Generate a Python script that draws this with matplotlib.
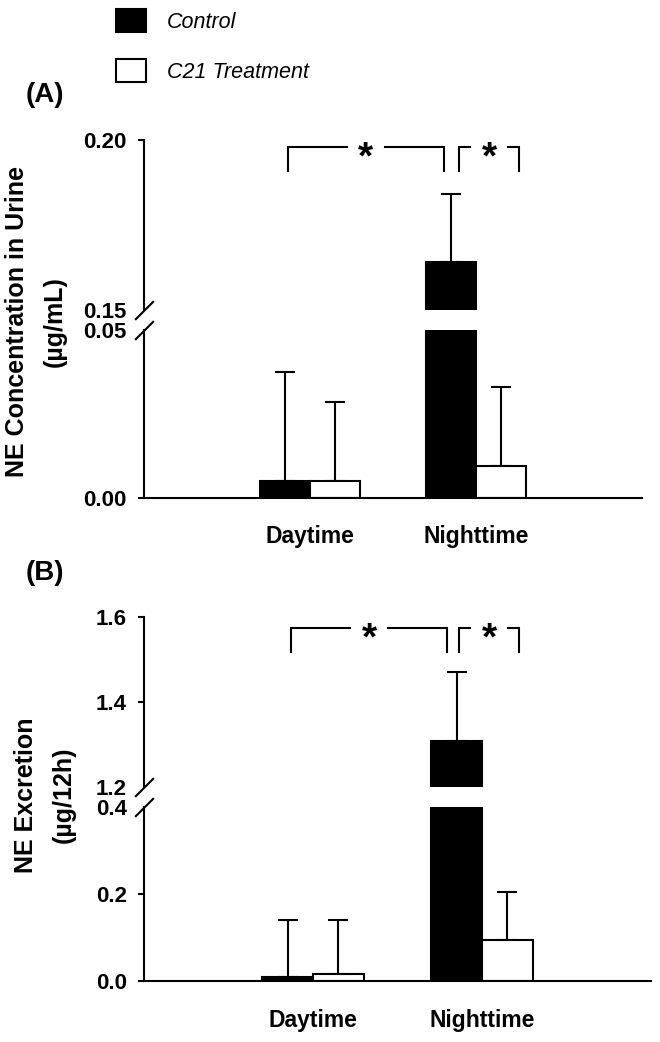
import numpy as np
import matplotlib
matplotlib.use("Agg")
import matplotlib.pyplot as plt
from matplotlib.patches import Patch
from matplotlib.font_manager import FontProperties

plt.rcParams['font.family'] = ['Liberation Sans', 'DejaVu Sans']
plt.rcParams['font.weight'] = 'bold'

# ---------------- data ----------------
categories = ['Daytime', 'Nighttime']
series_labels = ['Control', 'C21 Treatment']

# Panel A: NE concentration in urine (ug/mL)
a_control = [0.005, 0.164]
a_control_err = [0.0326, 0.020]
a_c21 = [0.005, 0.0095]
a_c21_err = [0.0236, 0.0236]
a_upper_ticks = [0.15, 0.20]
a_upper_labels = ['0.15', '0.20']
a_lower_ticks = [0.00, 0.05]
a_lower_labels = ['0.00', '0.05']

# Panel B: NE excretion (ug/12h)
b_control = [0.009, 1.308]
b_control_err = [0.131, 0.162]
b_c21 = [0.016, 0.094]
b_c21_err = [0.124, 0.111]
b_upper_ticks = [1.2, 1.4, 1.6]
b_upper_labels = ['1.2', '1.4', '1.6']
b_lower_ticks = [0.0, 0.2, 0.4]
b_lower_labels = ['0.0', '0.2', '0.4']

# significance brackets (x in category units, y top / leg bottom)
a_bracket_x = [(0.867, 1.807), (1.898, 2.259)]
b_bracket_x = [(0.870, 1.793), (1.864, 2.219)]
a_bracket_y = (0.198, 0.191)
b_bracket_y = (1.574, 1.518)

W, H = 660, 1042
fig = plt.figure(figsize=(W / 100, H / 100), dpi=100)

def fx(px):
    return px / W

def fy(py):
    return 1 - py / H

A_up = fig.add_axes([fx(144), fy(310), 498 / W, 170 / H])
A_lo = fig.add_axes([fx(144), fy(497.6), 498 / W, 167.6 / H])
B_up = fig.add_axes([fx(144), fy(787), 507 / W, 170 / H])
B_lo = fig.add_axes([fx(144), fy(981), 507 / W, 174 / H])

x = np.arange(len(categories)) + 1.0
w = 0.3
LW = 1.5
bold = dict(family=['Liberation Sans', 'DejaVu Sans'], weight='bold')


def draw(ax, ctrl, ctrl_err, c21, c21_err):
    ax.bar(x - w / 2, ctrl, w, color='black', edgecolor='black', linewidth=LW, zorder=2)
    ax.bar(x + w / 2, c21, w, color='white', edgecolor='black', linewidth=LW, zorder=2)
    ax.errorbar(x - w / 2, ctrl, yerr=[np.zeros(len(ctrl)), ctrl_err], fmt='none',
                ecolor='black', elinewidth=LW, capsize=7, capthick=LW, zorder=1)
    ax.errorbar(x + w / 2, c21, yerr=[np.zeros(len(c21)), c21_err], fmt='none',
                ecolor='black', elinewidth=LW, capsize=7, capthick=LW, zorder=1)
    ax.set_xlim(0, 3)
    for s in ['top', 'right']:
        ax.spines[s].set_visible(False)
    ax.spines['left'].set_linewidth(LW)
    ax.spines['bottom'].set_linewidth(LW)
    ax.tick_params(axis='y', direction='out', length=4.5, width=LW, pad=8, labelsize=16)
    ax.tick_params(axis='x', length=0)


def setup(up, lo, ctrl, ctrl_err, c21, c21_err, ut, ul, lt, ll, bx, by):
    for ax in (up, lo):
        draw(ax, ctrl, ctrl_err, c21, c21_err)
    up.set_ylim(ut[0], ut[-1])
    lo.set_ylim(lt[0], lt[-1])
    up.set_yticks(ut)
    up.set_yticklabels(ul)
    lo.set_yticks(lt)
    lo.set_yticklabels(ll)
    up.yaxis.get_major_ticks()[0].tick1line.set_visible(False)
    lo.yaxis.get_major_ticks()[-1].tick1line.set_visible(False)
    up.spines['bottom'].set_visible(False)
    up.set_xticks([])
    lo.set_xticks(x)
    lo.set_xticklabels(categories, fontsize=16.5, fontweight='bold')
    lo.tick_params(axis='x', pad=20)
    # break marks
    kw = dict(marker=[(-1, -1), (1, 1)], markersize=13.5, linestyle='none',
              color='k', mec='k', mew=LW, clip_on=False)
    up.plot([0], [0], transform=up.transAxes, **kw)
    lo.plot([0], [1], transform=lo.transAxes, **kw)
    # significance brackets
    gap = 0.115
    ytop, ybot = by
    for (x0, x1) in bx:
        xc = (x0 + x1) / 2
        up.plot([x0, x0, xc - gap], [ybot, ytop, ytop], color='k', lw=LW, clip_on=False,
                solid_joinstyle='miter')
        up.plot([xc + gap, x1, x1], [ytop, ytop, ybot], color='k', lw=LW, clip_on=False,
                solid_joinstyle='miter')
        up.annotate('*', (xc, ytop), xytext=(0, -8.5), textcoords='offset points',
                    ha='center', va='center', fontsize=28, fontweight='bold',
                    annotation_clip=False)


setup(A_up, A_lo, a_control, a_control_err, a_c21, a_c21_err,
      a_upper_ticks, a_upper_labels, a_lower_ticks, a_lower_labels, a_bracket_x, a_bracket_y)
setup(B_up, B_lo, b_control, b_control_err, b_c21, b_c21_err,
      b_upper_ticks, b_upper_labels, b_lower_ticks, b_lower_labels, b_bracket_x, b_bracket_y)

# y labels
ylab_fp = FontProperties(size=18, **bold)
fig.text(fx(36), fy(322), 'NE Concentration in Urine\n(µg/mL)', rotation=90,
         ha='center', va='center', fontproperties=ylab_fp,
         multialignment='center', linespacing=1.7)
fig.text(fx(45), fy(795), 'NE Excretion\n(µg/12h)', rotation=90,
         ha='center', va='center', fontproperties=ylab_fp,
         multialignment='center', linespacing=1.7)

# panel labels
fig.text(fx(45), fy(95), '(A)', ha='center', va='center', fontsize=20, fontweight='bold')
fig.text(fx(45), fy(573), '(B)', ha='center', va='center', fontsize=20, fontweight='bold')

# legend
handles = [Patch(facecolor='black', edgecolor='black', linewidth=LW),
           Patch(facecolor='white', edgecolor='black', linewidth=LW)]
prop = FontProperties(family=['Liberation Sans', 'DejaVu Sans'],
                      style='italic', weight='normal', size=15.5)
fig.legend(handles, series_labels, loc='upper left', bbox_to_anchor=(fx(116), fy(9)),
           frameon=False, prop=prop, handlelength=1.4, handleheight=1.3,
           handletextpad=0.95, labelspacing=1.2, borderpad=0, borderaxespad=0)

fig.savefig('out.png', dpi=100)
